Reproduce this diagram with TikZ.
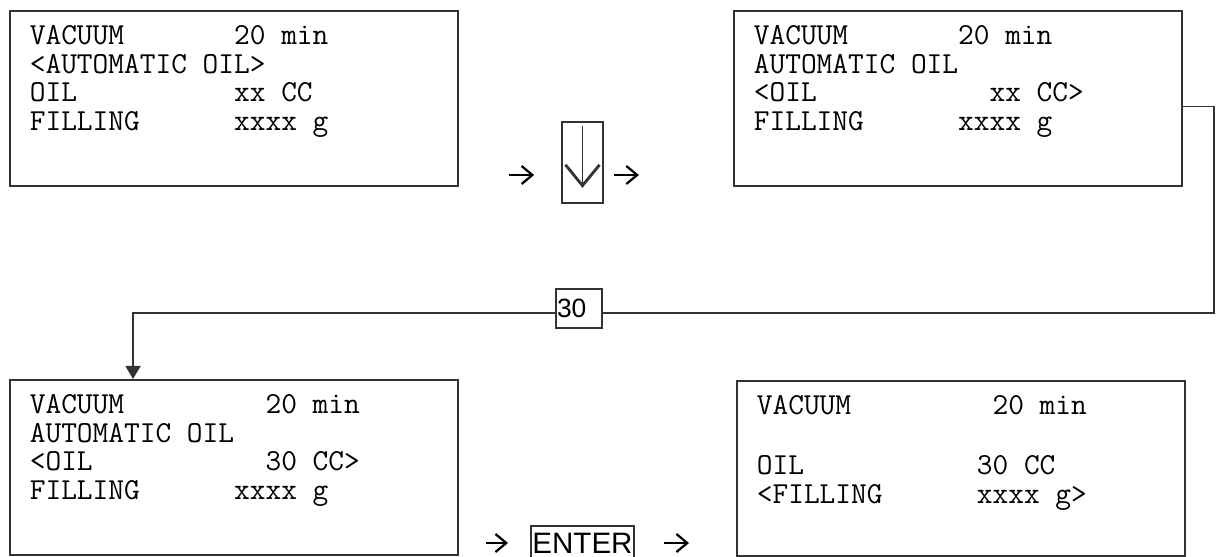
\documentclass[tikz,border=0pt]{standalone}
\usepackage{fontspec}
\usepackage{tikz}
\usetikzlibrary{arrows.meta,positioning,calc}
\newfontfamily\keyfont{Liberation Sans}
\newcommand\lcdfont{\ttfamily\fontsize{21.7pt}{20.2pt}\selectfont}
\newcommand\lcdrow[3]{\makebox[#1\fontcharwd\font`M][l]{#2}#3}
\newcommand\lcd[1]{\parbox[c][3.625cm][t]{10.2cm}{#1}}
\tikzset{
  screen/.style={rectangle, draw=black!80, line width=1.2pt, anchor=north west,
    inner xsep=0.5cm, inner ysep=0.375cm, font=\lcdfont},
  keycap/.style={rectangle, draw=black!80, line width=1.2pt,
    font=\keyfont\fontsize{21pt}{24pt}\selectfont},
  keyarrow/.style={draw=black, line width=1.4pt,
    -{Straight Barb[width=0.45cm, length=0.27cm, line width=1.6pt]}},
  link/.style={draw=black!80, line width=1.2pt},
}

\begin{document}
\begin{tikzpicture}[x=0.025cm, y=-0.025cm]
  \useasboundingbox (0,0) rectangle (1216,557);
  \node[screen] (s1) at (9,10) {\lcd{%
    \lcdrow{13}{VACUUM}{20 min}\\
    <AUTOMATIC OIL>\\
    \lcdrow{13}{OIL}{xx CC}\\
    \lcdrow{13}{FILLING}{xxxx g}}};
  \node[screen] (s2) at (733,10) {\lcd{%
    \lcdrow{13}{VACUUM}{20 min}\\
    AUTOMATIC OIL\\
    \lcdrow{15}{<OIL}{xx CC>}\\
    \lcdrow{13}{FILLING}{xxxx g}}};
  \node[screen] (s3) at (9,379) {\lcd{%
    \lcdrow{15}{VACUUM}{20 min}\\
    AUTOMATIC OIL\\
    \lcdrow{15}{<OIL}{30 CC>}\\
    \lcdrow{13}{FILLING}{xxxx g}}};
  \node[screen] (s4) at (736,380) {\lcd{%
    \lcdrow{15}{VACUUM}{20 min}\\
    \mbox{}\\[0.08cm]
    \lcdrow{14}{OIL}{30 CC}\\
    \lcdrow{14}{<FILLING}{xxxx g>}}};

  \node[keycap, minimum width=1.025cm, minimum height=2.025cm] (kdn) at (582.5,162.5) {};
  \draw[link, line width=1pt, -{Straight Barb[width=0.85cm, length=0.52cm, line width=2pt]}]
    ([yshift=-0.125cm]kdn.north) -- ([yshift=0.4cm]kdn.south);
  \draw[keyarrow] ([xshift=-1.3cm, yshift=-0.3125cm]kdn.west) -- ++(0.625cm,0);
  \draw[keyarrow] ([xshift=0.25cm, yshift=-0.3125cm]kdn.east) -- ++(0.625cm,0);

  \node[keycap, anchor=north, inner xsep=0.04cm, inner ysep=0.19cm] (kent) at (582.5,525) {ENTER};
  \draw[keyarrow] ([xshift=-1.1cm, yshift=-0.45cm]kent.north west) -- ++(0.55cm,0);
  \draw[keyarrow] ([xshift=0.725cm, yshift=-0.45cm]kent.north east) -- ++(0.625cm,0);

  \node[keycap, font=\keyfont\fontsize{18.8pt}{22pt}\selectfont, text width=1.1cm,
    align=left, inner xsep=0.02cm, minimum height=0.975cm] (val) at (579,308.5) {30};
  \coordinate (turn) at (1214,313);
  \draw[link] ([yshift=-0.2cm]s2.east) -| (turn) -- (turn -| val.east);
  \draw[link, -{Triangle[width=0.375cm, length=0.325cm]}]
    (val.west |- turn) -| ([xshift=3.1cm]s3.north west);
\end{tikzpicture}
\end{document}
